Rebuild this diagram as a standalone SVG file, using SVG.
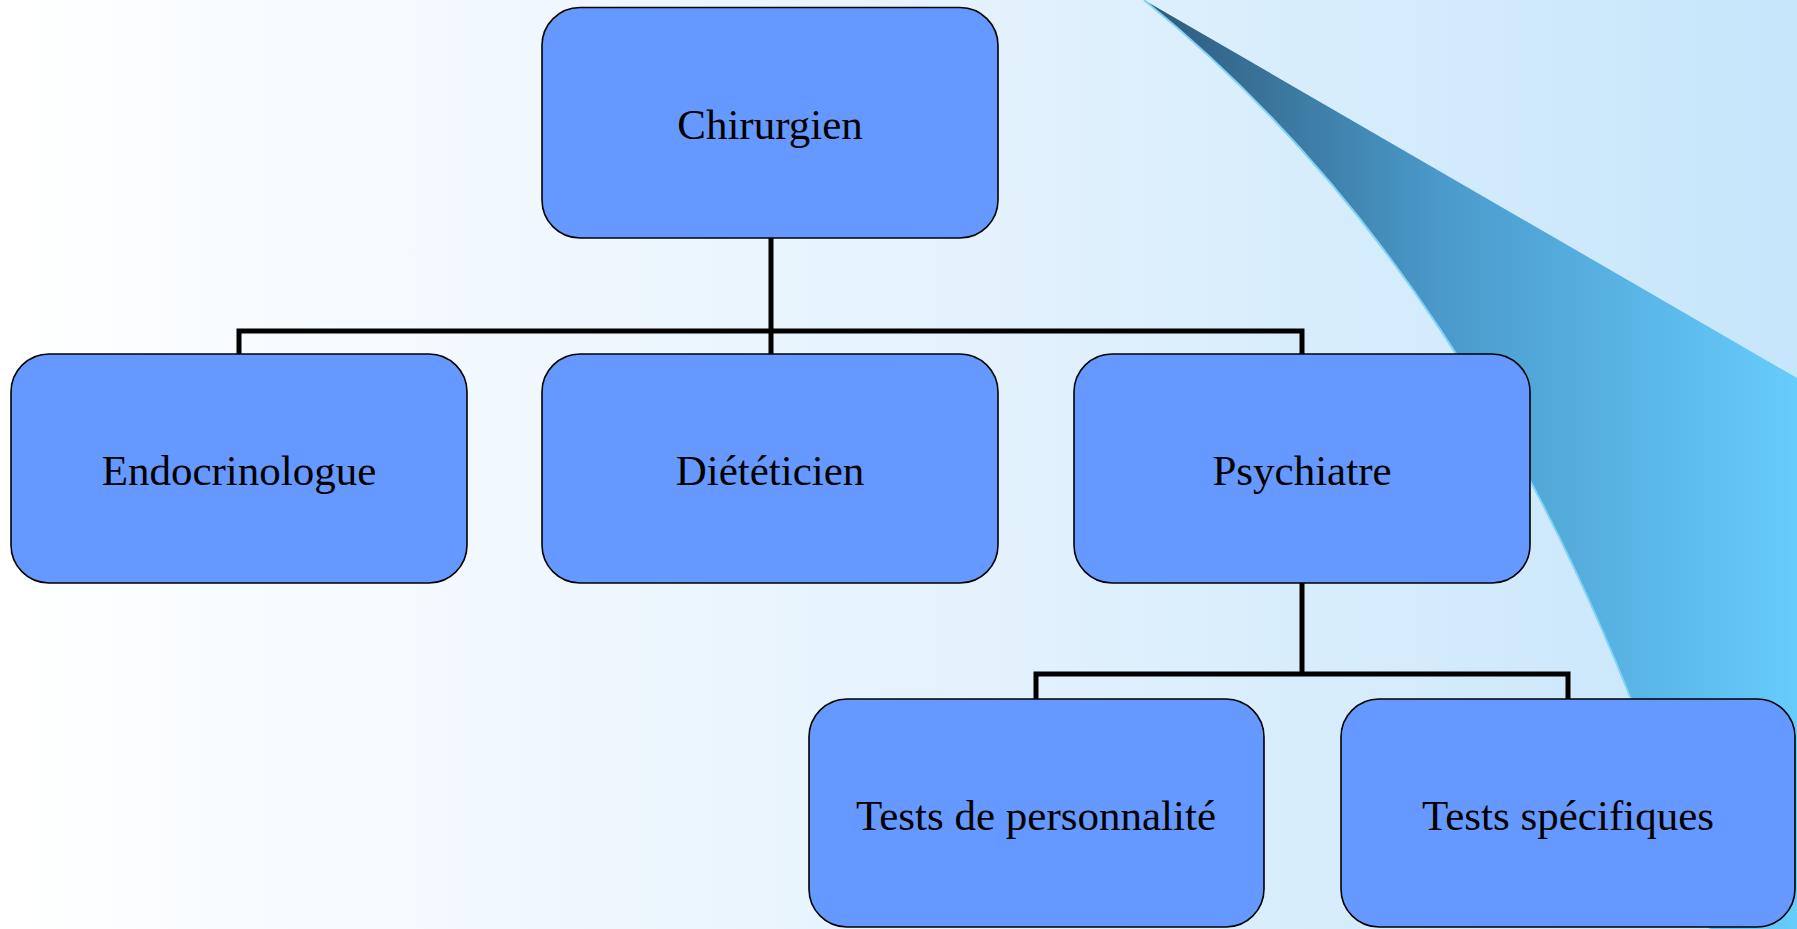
<svg xmlns="http://www.w3.org/2000/svg" width="1797" height="929" viewBox="0 0 1797 929">
  <defs>
    <linearGradient id="bg" x1="0" y1="0" x2="1797" y2="0" gradientUnits="userSpaceOnUse">
      <stop offset="0" stop-color="#ffffff"/>
      <stop offset="0.5" stop-color="#e6f3fd"/>
      <stop offset="1" stop-color="#c6e6fb"/>
    </linearGradient>
    <linearGradient id="swoosh" x1="1150" y1="0" x2="1797" y2="0" gradientUnits="userSpaceOnUse">
      <stop offset="0" stop-color="#2f5a7a"/>
      <stop offset="0.45" stop-color="#4a9acb"/>
      <stop offset="1" stop-color="#66ccfc"/>
    </linearGradient>
    <style>
      .box { fill: #6699ff; stroke: #000; stroke-width: 1.6; }
      .lbl { font-family: "Liberation Serif", "Times New Roman", serif; font-size: 43px; fill: #000; text-anchor: middle; }
      .conn { fill: none; stroke: #000; stroke-width: 5; stroke-linecap: butt; stroke-linejoin: miter; }
    </style>
  </defs>
  <rect x="0" y="0" width="1797" height="929" fill="url(#bg)"/>
  <g id="decor">
    <path d="M1144,0 L1797,378 L1797,929 L1710,929 C1560,420 1330,150 1144,0 Z" fill="url(#swoosh)"/>
    <path d="M1144,0 C1330,150 1560,420 1710,929" fill="none" stroke="#7fd3f7" stroke-width="2"/>
  </g>
  <g id="connectors">
    <path class="conn" d="M771,238 V354"/>
    <path class="conn" d="M239,354 V331 H1302 V354"/>
    <path class="conn" d="M1302,583 V674"/>
    <path class="conn" d="M1036,699 V674 H1568 V699"/>
  </g>
  <g id="chirurgien">
    <rect class="box" x="542" y="7.5" width="456" height="230.5" rx="38" ry="38"/>
    <text class="lbl" x="770" y="139">Chirurgien</text>
  </g>
  <g id="endocrinologue">
    <rect class="box" x="11" y="354" width="456" height="229" rx="38" ry="38"/>
    <text class="lbl" x="239" y="485">Endocrinologue</text>
  </g>
  <g id="dieteticien">
    <rect class="box" x="542" y="354" width="456" height="229" rx="38" ry="38"/>
    <text class="lbl" x="770" y="485">Diététicien</text>
  </g>
  <g id="psychiatre">
    <rect class="box" x="1074" y="354" width="456" height="229" rx="38" ry="38"/>
    <text class="lbl" x="1302" y="485">Psychiatre</text>
  </g>
  <g id="tests-personnalite">
    <rect class="box" x="809" y="699" width="455" height="228" rx="38" ry="38"/>
    <text class="lbl" x="1036" y="830">Tests de personnalité</text>
  </g>
  <g id="tests-specifiques">
    <rect class="box" x="1341" y="699" width="454" height="228" rx="38" ry="38"/>
    <text class="lbl" x="1568" y="830">Tests spécifiques</text>
  </g>
</svg>
